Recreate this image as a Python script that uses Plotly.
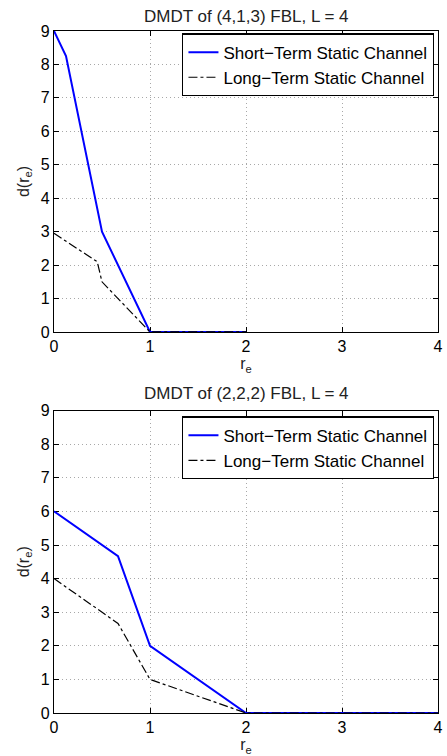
import plotly.graph_objects as go
from plotly.subplots import make_subplots

# Top panel: (4,1,3) FBL
top_short_x = [0, 0.125, 0.5, 1, 2]
top_short_y = [9, 8.25, 3, 0, 0]
top_long_x = [0, 0.45, 0.5, 1, 2]
top_long_y = [2.95, 2.1, 1.5, 0, 0]

# Bottom panel: (2,2,2) FBL
bot_short_x = [0, 2/3, 1, 2, 4]
bot_short_y = [6, 14/3, 2, 0, 0]
bot_long_x = [0, 2/3, 1, 2, 4]
bot_long_y = [4, 8/3, 1, 0, 0]

titles = ["DMDT of (4,1,3) FBL, L = 4", "DMDT of (2,2,2) FBL, L = 4"]
x_ticks = [0, 1, 2, 3, 4]
y_ticks = [0, 1, 2, 3, 4, 5, 6, 7, 8, 9]
name_short = "Short\u2212Term Static Channel"
name_long = "Long\u2212Term Static Channel"

FONT = "Liberation Sans, Arial, Helvetica, sans-serif"

fig = make_subplots(rows=2, cols=1, vertical_spacing=0.115)

panels = [
    (top_short_x, top_short_y, top_long_x, top_long_y, "legend"),
    (bot_short_x, bot_short_y, bot_long_x, bot_long_y, "legend2"),
]
for i, (sx, sy, lx, ly, lg) in enumerate(panels, start=1):
    fig.add_trace(go.Scatter(x=sx, y=sy, mode="lines", name=name_short,
                             line=dict(color="#0000ff", width=2), legend=lg),
                  row=i, col=1)
    fig.add_trace(go.Scatter(x=lx, y=ly, mode="lines", name=name_long,
                             line=dict(color="black", width=1.2, dash="dashdot"), legend=lg),
                  row=i, col=1)

axis_common = dict(
    showline=True, linecolor="black", linewidth=1.3, mirror="ticks",
    ticks="inside", ticklen=5, tickcolor="black",
    showgrid=True, gridcolor="#a8a8a8", griddash="1px,3px", gridwidth=1,
    zeroline=False, layer="below traces", ticklabeloverflow="allow",
    tickfont=dict(family=FONT, size=16, color="black"),
)

for i in (1, 2):
    fig.update_xaxes(range=[0, 4], tickvals=x_ticks, ticktext=[str(v) for v in x_ticks],
                     title=dict(text="r<sub>e</sub>", standoff=0,
                                font=dict(family=FONT, size=16, color="#222")),
                     row=i, col=1, **axis_common)
    fig.update_yaxes(range=[0, 9], tickvals=y_ticks, ticktext=[str(v) for v in y_ticks],
                     title=dict(text="d(r<sub>e</sub>)", standoff=7,
                                font=dict(family=FONT, size=16, color="#222")),
                     row=i, col=1, **axis_common)

fig.update_layout(
    xaxis=dict(domain=[0, 1]), xaxis2=dict(domain=[0, 1]),
    yaxis=dict(domain=[0.5587, 1.0]), yaxis2=dict(domain=[0.0, 0.4434]),
)

legend_common = dict(
    xanchor="right", yanchor="top",
    bgcolor="white", bordercolor="black", borderwidth=1.3,
    font=dict(family=FONT, size=17, color="black"),
    tracegroupgap=0, itemwidth=30,
)
fig.update_layout(
    legend=dict(x=0.99, y=0.9966, **legend_common),
    legend2=dict(x=0.99, y=0.435, **legend_common),
)

fig.add_annotation(text=titles[0], xref="paper", yref="paper", x=0.5, y=1.0,
                   yanchor="bottom", yshift=3, showarrow=False,
                   font=dict(family=FONT, size=17, color="#222"))
fig.add_annotation(text=titles[1], xref="paper", yref="paper", x=0.5, y=0.4434,
                   yanchor="bottom", yshift=6, showarrow=False,
                   font=dict(family=FONT, size=17, color="#222"))

fig.update_layout(
    width=447, height=756,
    margin=dict(l=54, r=4, t=31, b=43),
    plot_bgcolor="white", paper_bgcolor="white",
    font=dict(family=FONT, size=16, color="black"),
)

fig.write_html("out.html")
